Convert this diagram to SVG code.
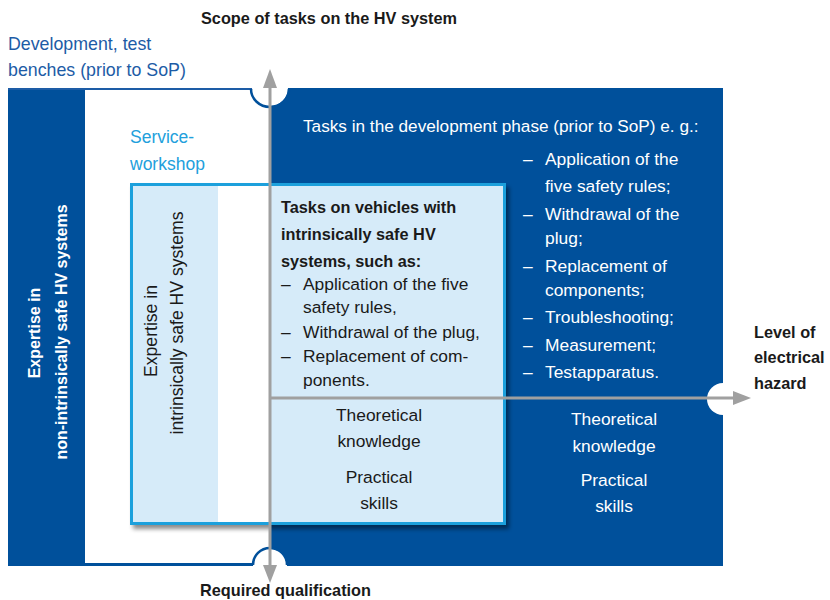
<svg xmlns="http://www.w3.org/2000/svg" width="830" height="600" viewBox="0 0 830 600">
<defs>
<style>
text{font-family:"Liberation Sans",Arial,sans-serif;font-size:17px}
.b{font-weight:bold}
.w{fill:#ffffff}
.k{fill:#1a1a1a}
.m{text-anchor:middle}
.l{font-size:17.4px}
.ax{stroke:#a0a0a0;stroke-width:3;fill:none}
.ah{fill:#a0a0a0}
</style>
<filter id="sh" x="-5%" y="-5%" width="115%" height="115%">
<feDropShadow dx="3" dy="4" stdDeviation="2" flood-color="#000000" flood-opacity="0.45"/>
</filter>
</defs>
<rect x="0" y="0" width="830" height="600" fill="#ffffff"/>

<g id="dev-area">
<rect x="8" y="88" width="715" height="478" fill="#00509b"/>
<rect x="85" y="90" width="185" height="473" fill="#ffffff"/>
<line x1="8" y1="89" x2="252" y2="89" stroke="#1d5ca6" stroke-width="2"/>
<path d="M252,88 A18,18 0 0 0 288,88 Z" fill="#ffffff"/>
<path d="M251,89 A19,18 0 0 0 289,89" fill="none" stroke="#00509b" stroke-width="2.5"/>
<path d="M253,566 A17,17 0 0 1 287,566 Z" fill="#ffffff"/>
<path d="M253,565 A17,17 0 0 1 287,565" fill="none" stroke="#00509b" stroke-width="2.5"/>
<path d="M723,383 A16,16 0 0 0 723,415 Z" fill="#ffffff"/>
<text x="8" y="50" style="fill:#1d5ca6;font-size:17.8px">Development, test</text>
<text x="8" y="76" style="fill:#1d5ca6;font-size:17.8px">benches (prior to SoP)</text>
<g transform="translate(40,333) rotate(-90)">
<text class="w b m" x="0" y="0" style="font-size:16px">Expertise in</text>
</g>
<g transform="translate(67,332) rotate(-90)">
<text class="w b m" x="0" y="0" style="font-size:16px">non-intrinsically safe HV systems</text>
</g>
<text class="w" x="303" y="132" style="font-size:17.2px">Tasks in the development phase (prior to SoP) e. g.:</text>
<text class="w l" x="523" y="165">–</text>
<text class="w l" x="545" y="165">Application of the</text>
<text class="w l" x="545" y="192">five safety rules;</text>
<text class="w l" x="523" y="220">–</text>
<text class="w l" x="545" y="220">Withdrawal of the</text>
<text class="w l" x="545" y="244">plug;</text>
<text class="w l" x="523" y="272">–</text>
<text class="w l" x="545" y="272">Replacement of</text>
<text class="w l" x="545" y="296">components;</text>
<text class="w l" x="523" y="323">–</text>
<text class="w l" x="545" y="323">Troubleshooting;</text>
<text class="w l" x="523" y="351">–</text>
<text class="w l" x="545" y="351">Measurement;</text>
<text class="w l" x="523" y="378">–</text>
<text class="w l" x="545" y="378">Testapparatus.</text>
<text class="w m l" x="614" y="425">Theoretical</text>
<text class="w m l" x="614" y="452">knowledge</text>
<text class="w m l" x="614" y="486">Practical</text>
<text class="w m l" x="614" y="512">skills</text>
</g>

<g id="service-workshop">
<text x="130" y="143" style="fill:#22a0dc;font-size:17.5px">Service-</text>
<text x="130" y="170" style="fill:#22a0dc;font-size:17.5px">workshop</text>
<rect x="131.5" y="184.5" width="373" height="339" fill="#d6ebf9" stroke="#1ea0dc" stroke-width="3" filter="url(#sh)"/>
<rect x="218" y="186" width="53" height="336" fill="#ffffff"/>
<g transform="translate(157,331) rotate(-90)">
<text class="k m" x="0" y="0" style="font-size:17.6px">Expertise in</text>
</g>
<g transform="translate(183,323) rotate(-90)">
<text class="k m" x="0" y="0" style="font-size:17.6px">intrinsically safe HV systems</text>
</g>
<text class="k b" x="281" y="213" style="font-size:16.3px">Tasks on vehicles with</text>
<text class="k b" x="281" y="240" style="font-size:16.3px">intrinsically safe HV</text>
<text class="k b" x="281" y="267" style="font-size:16.3px">systems, such as:</text>
<text class="k l" x="281" y="290">–</text>
<text class="k l" x="303" y="290">Application of the five</text>
<text class="k l" x="303" y="313">safety rules,</text>
<text class="k l" x="281" y="338">–</text>
<text class="k l" x="303" y="338">Withdrawal of the plug,</text>
<text class="k l" x="281" y="362">–</text>
<text class="k l" x="303" y="362">Replacement of com-</text>
<text class="k l" x="303" y="386">ponents.</text>
<text class="k m l" x="379" y="421">Theoretical</text>
<text class="k m l" x="379" y="447">knowledge</text>
<text class="k m l" x="379" y="483">Practical</text>
<text class="k m l" x="379" y="509">skills</text>
</g>

<g id="connectors">
<line class="ax" x1="270" y1="86" x2="270" y2="567"/>
<polygon class="ah" points="270,69 263,88 277,88"/>
<polygon class="ah" points="270,583 263,565 277,565"/>
<line class="ax" x1="271" y1="398" x2="735" y2="398"/>
<polygon class="ah" points="751,398 733,391 733,405"/>
</g>

<g id="axis-labels">
<text class="k b" x="201" y="24" style="font-size:16.3px">Scope of tasks on the HV system</text>
<text class="k b" x="200" y="596" style="font-size:16.3px">Required qualification</text>
<text class="k b" x="754" y="338" style="font-size:16.3px">Level of</text>
<text class="k b" x="754" y="363" style="font-size:16.3px">electrical</text>
<text class="k b" x="754" y="389" style="font-size:16.3px">hazard</text>
</g>
</svg>
